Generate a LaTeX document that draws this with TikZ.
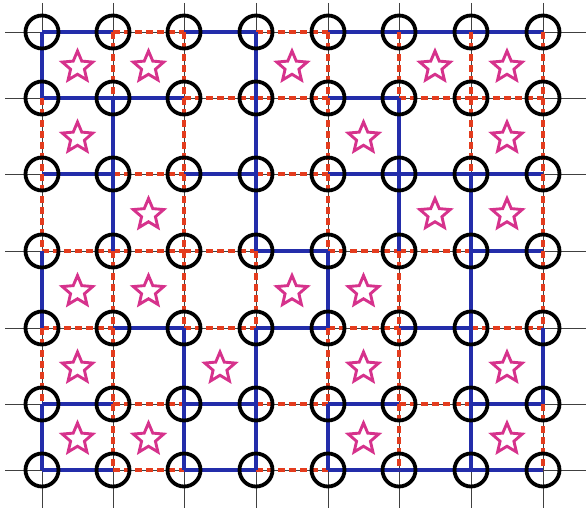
\documentclass[tikz,border=0pt]{standalone}
\usetikzlibrary{shapes.geometric,backgrounds,calc}
\definecolor{bondblue}{RGB}{35,45,170}
\definecolor{bondred}{RGB}{228,60,30}
\definecolor{starpink}{RGB}{214,50,140}

\begin{document}
\begin{tikzpicture}[x=1pt,y=-1pt,
  site/.style={circle,draw=black,line width=3.8pt,minimum size=33pt,inner sep=0pt},
  plaq/.style={star,star points=5,star point ratio=2.2,draw=starpink,line width=2.9pt,minimum size=32pt,inner sep=0pt},
  gridline/.style={black!75,line width=0.8pt},
  blueb/.style={bondblue,line width=3.4pt},
  redb/.style={bondred,line width=3.2pt,dash pattern=on 7pt off 4pt}]
\useasboundingbox (0,0) rectangle (586,513);
% lattice sites
\foreach \x [count=\c from 0] in {42,113,184,256,328,399,471,543}
  \foreach \y [count=\r from 0] in {32,98,174,251,328,404,470}
    \node[site] (v-\c-\r) at (\x,\y) {};
\begin{pgfonlayer}{background}
% thin grid
\foreach \y in {32,98,174,251,328,404,470} \draw[gridline] (5,\y) -- (586,\y);
\foreach \x in {42,113,184,256,328,399,471,543} \draw[gridline] (\x,3) -- (\x,508);
% horizontal bonds
\foreach \c/\r in {1/0,3/0, 2/1,3/1,5/1,6/1, 1/2,3/2, 0/3,1/3,2/3,4/3,5/3, 0/4,2/4,4/4,6/4, 1/5,3/5,5/5, 1/6,3/6}
  {\pgfmathtruncatemacro{\cc}{\c+1}
   \draw[redb] (v-\c-\r.center) -- (v-\cc-\r.center);}
\foreach \c/\r in {0/0,2/0,4/0,5/0,6/0, 0/1,1/1,4/1, 0/2,2/2,4/2,5/2,6/2, 3/3,6/3, 1/4,3/4,5/4, 0/5,2/5,4/5,6/5, 0/6,2/6,4/6,5/6,6/6}
  {\pgfmathtruncatemacro{\cc}{\c+1}
   \draw[blueb] (v-\c-\r.center) -- (v-\cc-\r.center);}
% vertical bonds
\foreach \c/\r in {0/1,0/2,0/4, 1/0,1/3,1/4,1/5, 2/0,2/1,2/2,2/3, 3/3, 4/0,4/1,4/2,4/4, 5/0,5/3,5/4,5/5, 6/0,6/1, 7/0,7/1,7/2,7/3,7/5}
  {\pgfmathtruncatemacro{\rr}{\r+1}
   \draw[redb] (v-\c-\r.center) -- (v-\c-\rr.center);}
\foreach \c/\r in {0/0,0/3,0/5, 1/1,1/2, 2/4,2/5, 3/0,3/1,3/2,3/4,3/5, 4/3,4/5, 5/1,5/2, 6/2,6/3,6/4,6/5, 7/4}
  {\pgfmathtruncatemacro{\rr}{\r+1}
   \draw[blueb] (v-\c-\r.center) -- (v-\c-\rr.center);}
\end{pgfonlayer}
% stars on plaquettes
\foreach \i/\j in {0/0,1/0,3/0,5/0,6/0, 0/1,4/1,6/1, 1/2,5/2,6/2, 0/3,1/3,3/3,4/3, 0/4,2/4,4/4,6/4, 0/5,1/5,4/5,6/5}
  {\pgfmathtruncatemacro{\ii}{\i+1}
   \pgfmathtruncatemacro{\jj}{\j+1}
   \node[plaq] (s-\i-\j) at ($(v-\i-\j.center)!0.5!(v-\ii-\jj.center)+(0,2)$) {};}
\end{tikzpicture}
\end{document}
